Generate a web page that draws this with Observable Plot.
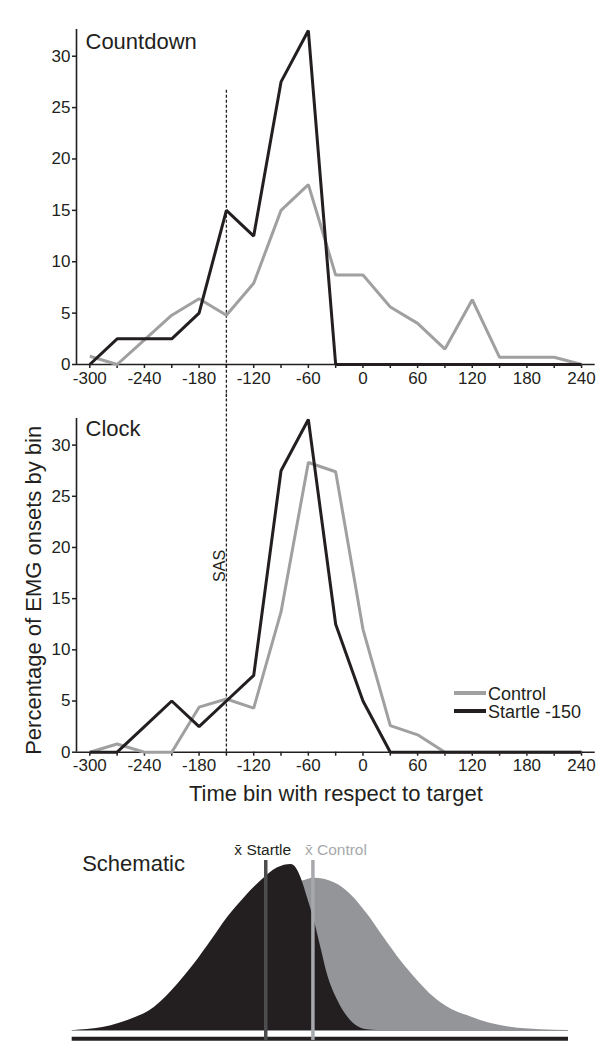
<!DOCTYPE html>
<html><head><meta charset="utf-8">
<script src="https://cdn.jsdelivr.net/npm/d3@7"></script>
<script src="https://cdn.jsdelivr.net/npm/@observablehq/plot@0.6"></script>
<style>
body{margin:0;background:#fff;font-family:"Liberation Sans",Arial,sans-serif;}
#wrap{position:relative;width:614px;height:1050px;overflow:hidden;background:#fff}
#wrap svg{position:absolute;left:0}
.leg{position:absolute;font-size:18px;color:#231f20;line-height:18px;white-space:nowrap}
.sw{display:inline-block;width:32px;height:0;border-top:4px solid;vertical-align:middle;margin-right:2px;position:relative;top:-2px}
</style></head><body><div id="wrap"></div>
<script>
// ---- data ----
const bins = [-300,-270,-240,-210,-180,-150,-120,-90,-60,-30,0,30,60,90,120,150,180,210,240];
const countdownControl = [0.8,0,2.4,4.8,6.4,4.8,7.9,15.0,17.5,8.7,8.7,5.6,4.0,1.5,6.3,0.7,0.7,0.7,0];
const countdownStartle = [0,2.5,2.5,2.5,5,15,12.5,27.5,32.5,0,0,0,0,0,0,0,0,0,0];
const clockControl = [0,0.8,0,0,4.4,5.2,4.3,13.7,28.3,27.4,12,2.6,1.7,0,0,0,0,0,0];
const clockStartle = [0,0,2.5,5,2.5,5,7.5,27.5,32.5,12.5,5,0,0,0,0,0,0,0,0];
const seriesNames = ["Control","Startle -150"];
const xTicks = [-300,-270,-240,-210,-180,-150,-120,-90,-60,-30,0,30,60,90,120,150,180,210,240];
const xTickLabels = [-300,-240,-180,-120,-60,0,60,120,180,240];
const yTicks = [0,5,10,15,20,25,30];
const sasTime = -150;
// schematic (arbitrary units)
const startleShapeX = [0.5,4.5,11.2,16.6,21.3,24.6,28.0,31.3,34.7,38.0,41.4,44.1,45.1,46.1,47.4,48.8,50.1,51.4,53.5,56.1,59.5,61.5];
const startleShapeH = [0,0.01,0.06,0.14,0.28,0.40,0.54,0.68,0.80,0.90,0.98,1.0,0.98,0.92,0.80,0.66,0.50,0.34,0.18,0.06,0.004,0];
const controlShapeX = [0,3,9,15.2,17.9,21.2,24.6,27.9,31.3,34.7,38.0,41.4,44.7,46.4,48.75,52.8,56.1,59.5,62.8,66.2,69.6,72.9,76.3,79.6,82.3,88.3,94.4,100];
const controlShapeH = [0,0.005,0.02,0.06,0.09,0.13,0.20,0.30,0.42,0.56,0.70,0.82,0.89,0.90,0.917,0.89,0.82,0.70,0.56,0.42,0.30,0.20,0.13,0.09,0.06,0.02,0.005,0];
const meanLabels = ["x\u0304 Startle","x\u0304 Control"];
const meanX = [39.0, 48.5];

// ---- drawing ----
const FONT = '"Liberation Sans", Arial, sans-serif';
const INK = "#231f20", GREY = "#a0a0a0";
const X_DOMAIN = [-314.6, 255];
const wrap = document.getElementById("wrap");

function linePanel({control, startle, title, top, height, marginTop, marginBottom, sasFrom, sasTo, titleDy, extra}) {
  const rows = bins.flatMap((b,i)=>[
    {bin:b, v:control[i], s:seriesNames[0]},
    {bin:b, v:startle[i], s:seriesNames[1]}
  ]);
  const sas = [{t:sasTime, from:sasFrom, to:sasTo}];
  const svg = Plot.plot({
    width:614, height, marginLeft:76, marginRight:19.3, marginTop, marginBottom,
    style:{fontFamily:FONT, fontSize:"17px", color:INK, background:"transparent", overflow:"visible"},
    x:{domain:X_DOMAIN}, y:{domain:[0,32.6]},
    color:{domain:seriesNames, range:[GREY, INK]},
    marks:[
      Plot.axisX({ticks:xTicks, tickFormat:d => xTickLabels.includes(d) ? String(d) : "", tickSize:4, tickPadding:3, label:null, strokeWidth:1.5, fontSize:17}),
      Plot.axisY({ticks:yTicks, tickSize:4, tickPadding:2, label:null, strokeWidth:1.5, fontSize:17, tickFormat:d=>String(d)}),
      Plot.ruleX([X_DOMAIN[0]], {stroke:INK, strokeWidth:1.6}),
      Plot.ruleY([0], {stroke:INK, strokeWidth:1.6}),
      Plot.ruleX(sas, {x:"t", y1:"from", y2:"to", stroke:INK, strokeWidth:1.3, strokeDasharray:"3,2"}),
      Plot.line(rows, {x:"bin", y:"v", stroke:"s", z:"s", strokeWidth:3, strokeLinejoin:"miter", strokeLinecap:"butt"}),
      Plot.text([title], {frameAnchor:"top-left", dx:9, dy:titleDy, lineAnchor:"top", textAnchor:"start", fontSize:22, fill:INK}),
      ...(extra || [])
    ]
  });
  svg.style.top = top + "px";
  wrap.appendChild(svg);
}

linePanel({control:countdownControl, startle:countdownStartle, title:"Countdown",
  top:0, height:395, marginTop:29, marginBottom:31, sasFrom:26.7, sasTo:-3.2, titleDy:4});

linePanel({control:clockControl, startle:clockStartle, title:"Clock",
  top:395, height:415, marginTop:23, marginBottom:58.3, sasFrom:35, sasTo:0, titleDy:2,
  extra:[
    Plot.text(["SAS"], {x:()=>sasTime, y:()=>18.2, rotate:-90, dx:-7, fontSize:16, fill:INK}),
    Plot.text(["Percentage of EMG onsets by bin"], {frameAnchor:"left", textAnchor:"middle", lineAnchor:"middle", rotate:-90, dx:-43, dy:5, fontSize:22, fill:INK}),
    Plot.text(["Time bin with respect to target"], {frameAnchor:"bottom", lineAnchor:"bottom", dy:49, fontSize:22, fill:INK})
  ]});

// legend (HTML, overlaid in the Clock panel)
[[seriesNames[0], GREY, 685],[seriesNames[1], INK, 703]].forEach(([name,col,y])=>{
  const d = document.createElement("div");
  d.className = "leg";
  d.style.left = "454px"; d.style.top = y + "px";
  d.innerHTML = `<span class="sw" style="border-color:${col}"></span>${name}`;
  wrap.appendChild(d);
});

// schematic
const startleRows = startleShapeX.map((x,i)=>({x, h:startleShapeH[i]}));
const controlRows = controlShapeX.map((x,i)=>({x, h:controlShapeH[i]}));
const means = meanX.map((x,i)=>({x, label:meanLabels[i]}));
const sch = Plot.plot({
  width:614, height:240, marginLeft:71.7, marginRight:46, marginTop:37.4, marginBottom:0.1,
  style:{fontFamily:FONT, background:"transparent", color:INK},
  x:{domain:[0,100], axis:null}, y:{domain:[-0.12,1.1], axis:null},
  marks:[
    Plot.ruleY([-0.05], {stroke:INK, strokeWidth:4}),
    Plot.areaY(controlRows, {x:"x", y:"h", fill:"#939598", curve:"monotone-x"}),
    Plot.areaY(startleRows, {x:"x", y:"h", fill:INK, curve:"monotone-x"}),
    Plot.ruleY([0], {stroke:"#939598", strokeWidth:1.2}),
    Plot.ruleX(means, {x:"x", y1:-0.06, y2:1.024, stroke:(d,i)=>i===0?"#4d4d4f":"#a7a9ac", strokeWidth:3.5}),
    Plot.text([means[0]], {x:"x", text:"label", frameAnchor:"top", lineAnchor:"top", dy:-4, dx:-3, fontSize:15.5, fill:INK}),
    Plot.text([means[1]], {x:"x", text:"label", frameAnchor:"top", lineAnchor:"top", dy:-4, dx:-8, textAnchor:"start", fontSize:15.5, fill:"#a7a9ac"}),
    Plot.text(["Schematic"], {frameAnchor:"top-left", dx:10, dy:7.6, lineAnchor:"top", textAnchor:"start", fontSize:22, fill:INK})
  ]
});
sch.style.top = "810px";
wrap.appendChild(sch);
</script></body></html>
